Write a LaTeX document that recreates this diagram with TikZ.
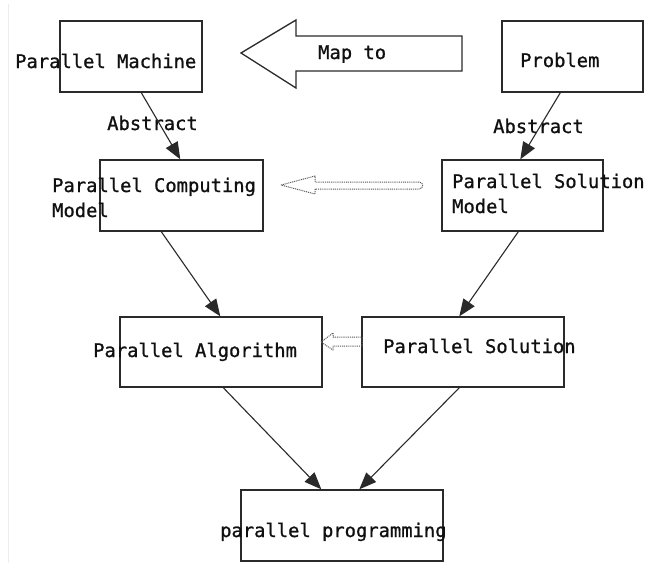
\documentclass[tikz,border=0pt]{standalone}
\usepackage{fontspec}
\newfontfamily\lblfont{DejaVu Sans Mono}[AutoFakeBold=0.9]
\usetikzlibrary{arrows.meta,calc}
\definecolor{ink}{HTML}{101010}
\definecolor{edge}{HTML}{2A2A2A}
\definecolor{dots}{HTML}{5A5A5A}
\begin{document}
\begin{tikzpicture}[x=1pt,y=-1pt,
  box/.style={draw=edge,line width=1.4pt,minimum width=#1,minimum height=71pt,inner sep=0pt},
  lbl/.style={font=\lblfont\bfseries\fontsize{18.8}{22}\selectfont,text=ink,inner sep=0pt,anchor=base west},
  flow/.style={draw=edge,line width=1.1pt,-{Triangle[length=17pt,width=13.5pt]}},
  hollow/.style={draw=dots,line width=1pt,dash pattern=on 1pt off 0.9pt,line join=round}]
\useasboundingbox (0,0) rectangle (645,563);
\fill[white] (0,0) rectangle (645,563);
% faint page edge on the left
\draw[gray!14,line width=0.8pt] (8,4) -- (8,563);

% boxes
\node[box=142pt] (pm)   at (131,56.5)  {};
\node[box=141pt] (prob) at (572.5,56.5) {};
\node[box=163pt] (pcm)  at (181.5,195.5) {};
\node[box=161pt] (psm)  at (522.5,195.5) {};
\node[box=202pt,minimum height=70pt] (pa) at (221,352) {};
\node[box=202pt,minimum height=70pt] (ps) at (463,352) {};
\node[box=202pt] (pp)   at (342,525.5) {};

% labels
\node[lbl] (tpm)   at (15,68)   {Parallel Machine};
\node[lbl] (tprob) at (520,67)  {Problem};
\node[lbl] (tmap)  at (318,59)  {Map to};
\node[lbl] (tabl)  at (107,130) {Abstract};
\node[lbl] (tabr)  at (493,133) {Abstract};
\node[lbl] (tpcm)  at (52,192)  {Parallel Computing};
\node[lbl] (tpcm2) at (52,217)  {Model};
\node[lbl] (tpsm)  at (452,188) {Parallel Solution};
\node[lbl] (tpsm2) at (452,213) {Model};
\node[lbl] (tpa)   at (93,357)  {Parallel Algorithm};
\node[lbl] (tps)   at (383,353) {Parallel Solution};
\node[lbl] (tpp)   at (220,537) {parallel programming};

% block arrow "Map to"
\draw[edge,line width=1.3pt,line join=miter]
  (241,53) -- (296,20) -- (296,36) -- (462,36) -- (462,71) -- (296,71) -- (296,88) -- cycle;

% hollow dotted arrows
\path[hollow] (281,185) -- (315,176) -- (315,182) -- (419,182)
  .. controls (424,182) and (424,189) .. (419,189) -- (315,189) -- (315,194) -- cycle;
\path[hollow] (321,342) -- (333,333) -- (333,337) -- (362,337)
  -- (362,346) -- (333,346) -- (333,350) -- cycle;

% flow arrows
\draw[flow] ($(pm.south west)+(82,0)$)   -- ($(pcm.north west)+(81,0)$);
\draw[flow] ($(prob.south west)+(59,0)$) -- ($(psm.north west)+(79,0)$);
\draw[flow] ($(pcm.south west)+(62,0)$)  -- ($(pa.north west)+(101,0)$);
\draw[flow] ($(psm.south west)+(77,0)$)  -- ($(ps.north west)+(98,0)$);
\draw[flow] ($(pa.south west)+(104,0)$)  -- ($(pp.north west)+(81,0)$);
\draw[flow] ($(ps.south west)+(98,0)$)   -- ($(pp.north west)+(119,0)$);
\end{tikzpicture}
\end{document}
